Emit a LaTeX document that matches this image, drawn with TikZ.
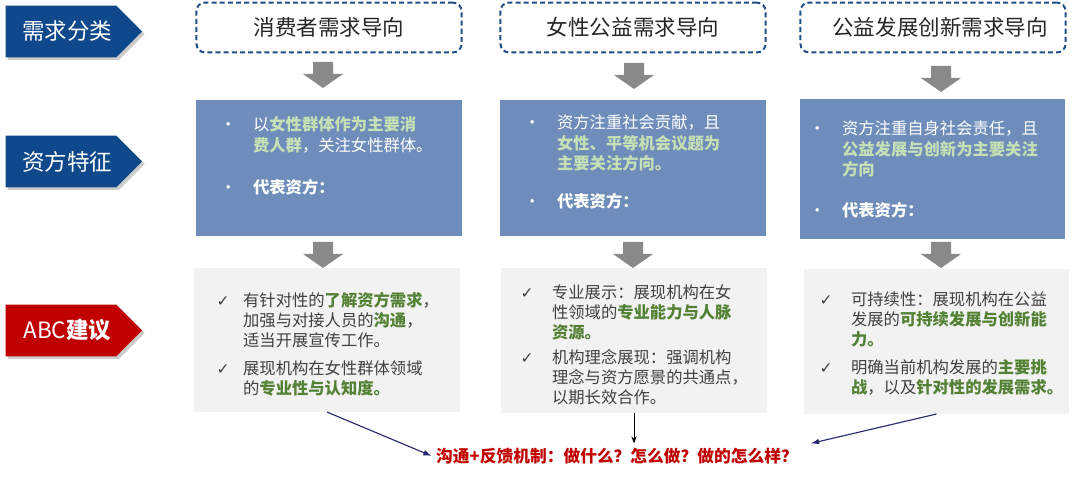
\documentclass[tikz,border=0pt]{standalone}
\usepackage{fontspec}
\setmainfont{Noto Sans CJK SC}
\newfontfamily\symfont{DejaVu Sans}
\usetikzlibrary{shapes.symbols, shadows, arrows.meta}

\definecolor{labblue}{RGB}{16,72,140}
\definecolor{dashblue}{RGB}{31,78,140}
\definecolor{headtxt}{RGB}{38,38,38}
\definecolor{featblue}{RGB}{111,141,186}
\definecolor{lightgreen}{RGB}{197,224,180}
\definecolor{advgrey}{RGB}{242,242,242}
\definecolor{advgreen}{RGB}{84,130,53}
\definecolor{txtgrey}{RGB}{64,64,64}
\definecolor{arrgrey}{RGB}{137,137,137}
\definecolor{abcred}{RGB}{192,0,0}
\definecolor{navy}{RGB}{40,40,110}

\newdimen\pxu \pxu=0.70866pt
\newcommand{\hlw}[1]{\textbf{\color{lightgreen}#1}}
\newcommand{\hlg}[1]{\textbf{\color{advgreen}#1}}
\newcommand{\bul}{\makebox[50\pxu][c]{•}}
\newcommand{\chk}[1]{\makebox[#1\pxu][c]{\symfont\fontsize{11}{11}\selectfont ✓}}
\newcommand{\ind}[1]{\hspace*{#1\pxu}}

\begin{document}
\begin{tikzpicture}[x=0.025cm, y=-0.025cm,
    lab/.style={signal, signal to=east, signal pointer angle=90, inner sep=0pt,
        minimum width=137*\pxu, minimum height=52*\pxu, text=white,
        font=\fontsize{16}{18}\selectfont,
        drop shadow={shadow xshift=1.8pt, shadow yshift=-1.8pt, opacity=0.4}},
    headbox/.style={draw=dashblue, line width=1.4pt, dash pattern=on 3.6pt off 2.2pt,
        rounded corners=6pt, minimum width=266*\pxu, minimum height=50*\pxu,
        text=headtxt, font=\fontsize{15.3}{18}\selectfont},
    feat/.style={fill=featblue, minimum width=266*\pxu, inner sep=0pt},
    adv/.style={fill=advgrey, minimum width=266*\pxu, inner sep=0pt},
    ftxt/.style={anchor=north west, inner sep=0pt, align=left, text=white,
        font=\fontsize{11.6}{14.9}\selectfont},
    atxt/.style={anchor=north west, inner sep=0pt, align=left, text=txtgrey,
        font=\fontsize{11.6}{14.2}\selectfont},
    link/.style={navy, line width=0.8pt, -{Latex[length=6pt, width=4pt]}}
]

    % Page size (in px of the picture)
    \useasboundingbox (0,0) rectangle (1080,477);

    % Row labels
    \node[lab, fill=labblue] (c1) at (61,31.5)  {\hspace*{9pt}需求分类};
    \node[lab, fill=labblue] (c2) at (61,161.5) {\hspace*{9pt}资方特征};
    \node[lab, fill=abcred]  (c3) at (61,330.5) {\hspace*{9pt}ABC\textbf{建议}};

    % Header boxes
    \node[headbox] (h1) at (329,27.5) {消费者需求导向};
    \node[headbox] (h2) at (633,27.5) {女性公益需求导向};
    \node[headbox] (h3) at (933,27.5) {\hspace*{10pt}公益发展创新需求导向};

    % Block arrows
    \foreach \x/\y in {323/62, 634/63, 941/66, 323/242, 633/242, 941/242}{
        \fill[arrgrey] (\x-10,\y) -- (\x+10,\y) -- (\x+10,\y+12) -- (\x+20,\y+12)
            -- (\x,\y+26) -- (\x-20,\y+12) -- (\x-10,\y+12) -- cycle;
    }

    % Funder features
    \node[feat, minimum height=136*\pxu] (b1) at (329,168)   {};
    \node[feat, minimum height=136*\pxu] (b2) at (633,168)   {};
    \node[feat, minimum height=140*\pxu] (b3) at (932.5,169) {};
    \node[ftxt] (t1) at (203,116) {\bul 以\hlw{女性群体作为主要消}\\
        \ind{50}\hlw{费人群}，关注女性群体。\\[15pt]
        \bul\textbf{代表资方：}};
    \node[ftxt] (t2) at (507,114) {\bul 资方注重社会贡献，且\\
        \ind{50}\hlw{女性、平等机会议题为}\\
        \ind{50}\hlw{主要关注方向。}\\[12pt]
        \bul\textbf{代表资方：}};
    \node[ftxt] (t3) at (792,120) {\bul 资方注重自身社会责任，且\\
        \ind{50}\hlw{公益发展与创新为主要关注}\\
        \ind{50}\hlw{方向}\\[14pt]
        \bul\textbf{代表资方：}};

    % Advice
    \node[adv, minimum height=144*\pxu] (g1) at (327,340)     {};
    \node[adv, minimum height=145*\pxu] (g2) at (634,340.5)   {};
    \node[adv, minimum height=145*\pxu] (g3) at (936.5,341.5) {};
    \node[atxt] (s1) at (203,292) {\chk{40}有针对性的\hlg{了解资方需求}，\\
        \ind{40}加强与对接人员的\hlg{沟通}，\\
        \ind{40}适当开展宣传工作。\\[5.7pt]
        \chk{40}展现机构在女性群体领域\\
        \ind{40}的\hlg{专业性与认知度。}};
    \node[atxt] (s2) at (502,284) {\chk{50}专业展示：展现机构在女\\
        \ind{50}性领域的\hlg{专业能力与人脉}\\
        \ind{50}\hlg{资源。}\\[4pt]
        \chk{50}机构理念展现：强调机构\\
        \ind{50}理念与资方愿景的共通点，\\
        \ind{50}以期长效合作。};
    \node[atxt] (s3) at (801,292) {\chk{50}可持续性：展现机构在公益\\
        \ind{50}发展的\hlg{可持续发展与创新能}\\
        \ind{50}\hlg{力。}\\[5.7pt]
        \chk{50}明确当前机构发展的\hlg{主要挑}\\
        \ind{50}\hlg{战}，以及\hlg{针对性的发展需求。}};

    % Feedback
    \node[text=abcred, inner sep=3pt, font=\bfseries\fontsize{11.9}{14}\selectfont] (fb)
        at (617,456) {沟通+反馈机制：做什么？怎么做？做的怎么样？};
    \draw[link] (g1.south) -- (fb.west);
    \draw[black, line width=0.6pt, -{Stealth[length=5pt]}] (g2.south) -- (g2.south |- fb.north);
    \draw[link] (g3.south) -- ([xshift=6pt]fb.north east);

\end{tikzpicture}
\end{document}
